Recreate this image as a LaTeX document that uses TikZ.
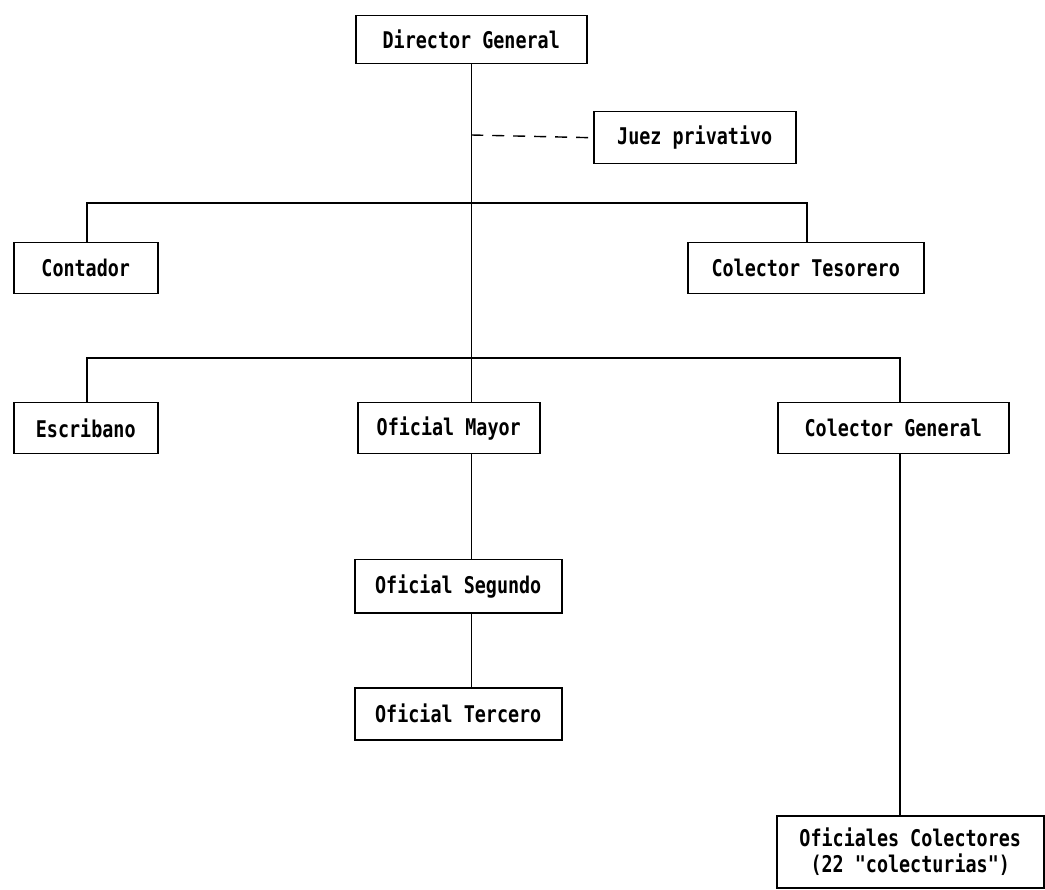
\documentclass[tikz,border=0pt]{standalone}
\usepackage{fontspec}
\newfontfamily\boxfont[FakeStretch=0.8]{DejaVu Sans Mono Bold}
\begin{document}
\begin{tikzpicture}[x=1pt,y=-1pt,
  orgbox/.style={draw, line width=1.5pt, anchor=north west, inner sep=0pt,
    font=\boxfont\fontsize{23}{26}\selectfont, align=center},
  link/.style={line width=1.4pt},
  dotted link/.style={line width=1.4pt, dash pattern=on 12pt off 9pt}]
\useasboundingbox (0,0) rectangle (1045,890);

% boxes (top-left corner, size)
\node[orgbox, minimum width=231, minimum height=48] (dg)  at (355,15)  {Director General};
\node[orgbox, minimum width=202, minimum height=52] (jp)  at (593,111) {Juez privativo};
\node[orgbox, minimum width=144, minimum height=51] (cont) at (13,242) {Contador};
\node[orgbox, minimum width=236, minimum height=51] (ct)  at (687,242) {Colector Tesorero};
\node[orgbox, minimum width=144, minimum height=51] (esc) at (13,402)  {Escribano};
\node[orgbox, minimum width=182, minimum height=51] (om)  at (357,402) {Oficial Mayor};
\node[orgbox, minimum width=231, minimum height=51] (cg)  at (777,402) {Colector General};
\node[orgbox, minimum width=207, minimum height=53] (os)  at (354,559) {Oficial Segundo};
\node[orgbox, minimum width=207, minimum height=52] (ot)  at (354,687) {Oficial Tercero};
\node[orgbox, minimum width=267, minimum height=72] (oc)  at (776,815)
  {Oficiales Colectores\\(22 "colecturias")};

% bus levels and drop points
\coordinate (jx)  at (470,135);
\coordinate (b1)  at (0,203);
\coordinate (b2)  at (0,358);
\coordinate (cx)  at (87,0);
\coordinate (tx)  at (807,0);
\coordinate (gx)  at (900,0);

% main trunk
\draw[link] (dg.south) -- (dg.south |- om.north);
\draw[dotted link] (dg.south |- jx) -- (jp.west);

% first level
\draw[link] (cx |- cont.north) -- (cx |- b1) -- (tx |- b1) -- (tx |- ct.north);

% second level
\draw[link] (cx |- esc.north) -- (cx |- b2) -- (gx |- b2) -- (gx |- cg.north);

% Oficial chain
\draw[link] (dg.south |- om.south) -- (dg.south |- os.north);
\draw[link] (dg.south |- os.south) -- (dg.south |- ot.north);

% Colectores
\draw[link] (gx |- cg.south) -- (gx |- oc.north);
\end{tikzpicture}
\end{document}
